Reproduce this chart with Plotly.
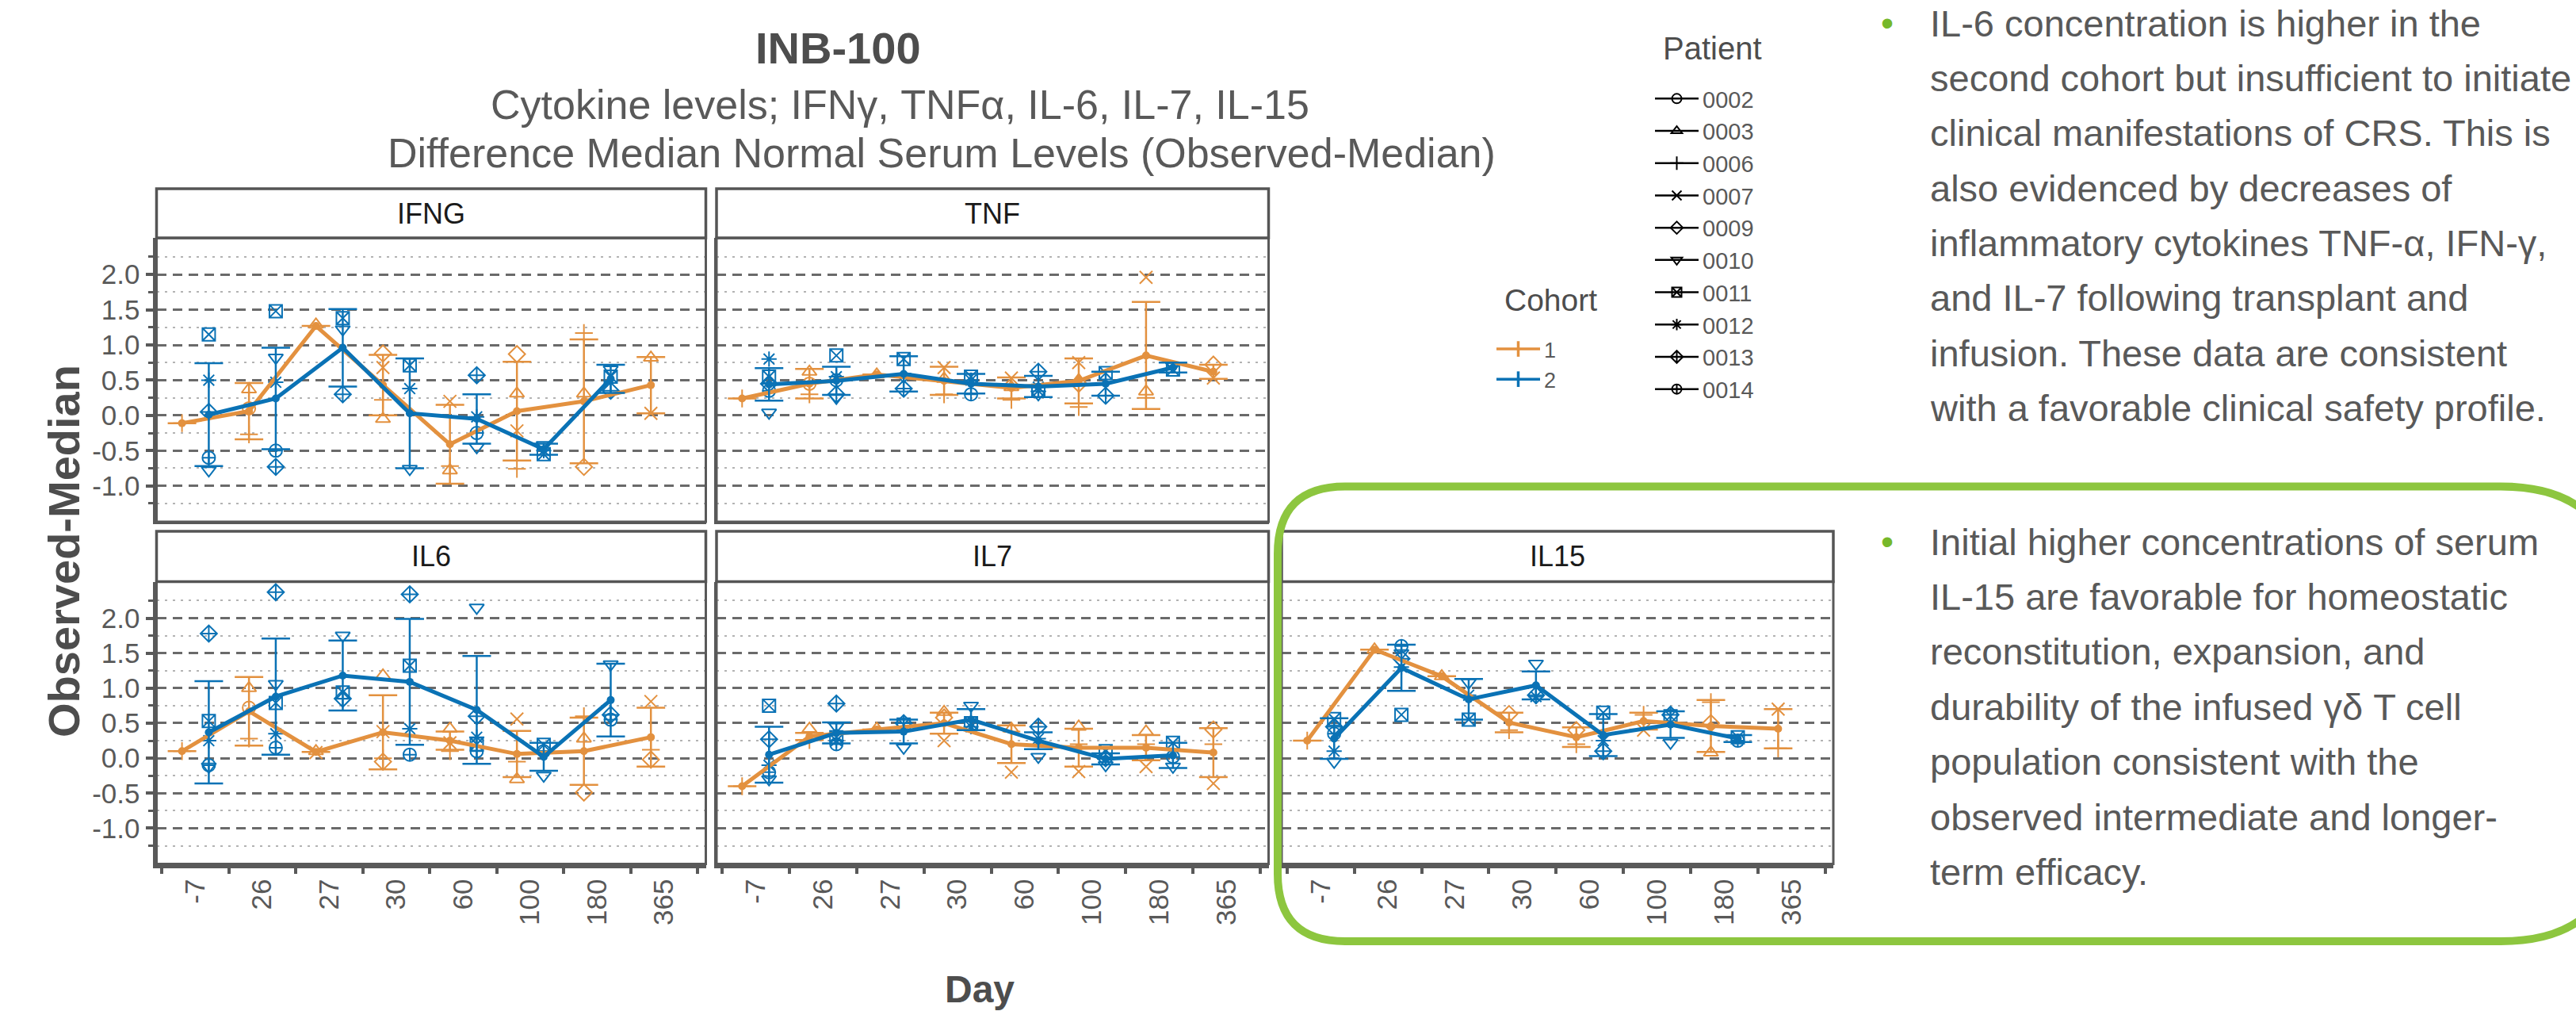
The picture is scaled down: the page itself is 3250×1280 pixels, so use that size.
import plotly.graph_objects as go

# ---------------- data ----------------
DAYS = ["-7", "26", "27", "30", "60", "100", "180", "365"]
CYTOKINES = ["IFNG", "TNF", "IL6", "IL7", "IL15"]
COHORT_1_PATIENTS = ["0002", "0003", "0006", "0007", "0009"]
COHORT_2_PATIENTS = ["0010", "0011", "0012", "0013", "0014"]
PATIENTS = COHORT_1_PATIENTS + COHORT_2_PATIENTS
COHORTS = ["1", "2"]
N = None

# cohort means (Observed - Median) and error half-widths
IFNG_C1_MEAN = [-0.11, 0.06, 1.27, 0.43, -0.41, 0.06, 0.20, 0.43]
IFNG_C1_ERR = [0, 0.40, 0, 0.43, 0.56, 0.70, 0.88, 0.40]
IFNG_C2_MEAN = [0.01, 0.24, 0.96, 0.03, -0.05, -0.48, 0.52, N]
IFNG_C2_ERR = [0.73, 0.72, 0.55, 0.78, 0.35, 0.08, 0.20, N]

TNF_C1_MEAN = [0.24, 0.45, 0.58, 0.49, 0.39, 0.49, 0.85, 0.62]
TNF_C1_ERR = [0, 0.21, 0, 0.20, 0.15, 0.32, 0.76, 0.10]
TNF_C2_MEAN = [0.44, 0.49, 0.59, 0.45, 0.41, 0.45, 0.68, N]
TNF_C2_ERR = [0.23, 0.20, 0.25, 0.14, 0.15, 0.17, 0.07, N]

IL6_C1_MEAN = [0.10, 0.67, 0.09, 0.37, 0.25, 0.06, 0.10, 0.30]
IL6_C1_ERR = [0, 0.49, 0, 0.53, 0.13, 0.33, 0.48, 0.42]
IL6_C2_MEAN = [0.37, 0.88, 1.18, 1.09, 0.69, 0.02, 0.83, N]
IL6_C2_ERR = [0.73, 0.83, 0.50, 0.90, 0.77, 0.20, 0.52, N]

IL7_C1_MEAN = [-0.40, 0.31, 0.41, 0.50, 0.20, 0.15, 0.15, 0.08]
IL7_C1_ERR = [0, 0.05, 0, 0.15, 0.27, 0.27, 0.18, 0.35]
IL7_C2_MEAN = [0.05, 0.36, 0.38, 0.55, 0.25, -0.01, 0.04, N]
IL7_C2_ERR = [0.40, 0.15, 0.17, 0.15, 0.12, 0.08, 0.18, N]

IL15_C1_MEAN = [0.25, 1.55, 1.17, 0.51, 0.30, 0.53, 0.46, 0.42]
IL15_C1_ERR = [0, 0, 0, 0.14, 0.14, 0.12, 0.37, 0.28]
IL15_C2_MEAN = [0.28, 1.29, 0.84, 1.04, 0.33, 0.48, 0.28, N]
IL15_C2_ERR = [0.29, 0.33, 0.29, 0.20, 0.30, 0.19, 0.05, N]

# individual patient values per cytokine
IFNG_PTS = {
    "0002": [N, 0.10, N, N, N, N, N, N],
    "0003": [N, 0.37, 1.29, -0.05, -0.78, 0.31, 0.31, 0.82],
    "0006": [-0.11, -0.27, N, 0.22, -0.72, -0.76, 1.17, N],
    "0007": [N, N, N, 0.68, 0.20, -0.22, N, 0.03],
    "0009": [N, N, N, 0.88, N, 0.87, -0.73, N],
    "0010": [-0.78, 0.82, 1.22, -0.76, -0.45, -0.42, 0.65, N],
    "0011": [1.15, 1.48, 1.38, 0.71, N, -0.55, 0.55, N],
    "0012": [0.50, 0.47, N, 0.38, -0.02, -0.50, N, N],
    "0013": [0.05, -0.73, 0.30, N, 0.57, N, 0.35, N],
    "0014": [-0.60, -0.50, N, N, -0.25, N, N, N],
}
TNF_PTS = {
    "0002": [N, 0.45, N, N, N, N, N, N],
    "0003": [N, 0.62, 0.58, 0.52, 0.40, 0.50, 0.34, N],
    "0006": [0.24, 0.30, N, 0.30, 0.22, 0.12, 0.25, N],
    "0007": [N, N, N, 0.68, 0.53, 0.75, 1.96, 0.53],
    "0009": [N, N, N, N, N, 0.45, N, 0.72],
    "0010": [0.04, 0.25, 0.55, N, 0.30, N, 0.70, N],
    "0011": [0.55, 0.85, 0.80, 0.55, 0.35, 0.60, 0.65, N],
    "0012": [0.80, 0.55, N, 0.50, 0.40, N, N, N],
    "0013": [0.45, 0.30, 0.38, N, 0.62, 0.28, N, N],
    "0014": [0.35, 0.50, N, 0.30, N, N, N, N],
}
IL6_PTS = {
    "0002": [N, 0.72, N, N, N, N, N, N],
    "0003": [N, 1.00, 0.10, 1.18, 0.42, -0.30, 0.28, N],
    "0006": [0.10, 0.28, N, 0.00, 0.10, -0.05, 0.60, 0.12],
    "0007": [N, N, 0.08, 0.38, 0.22, 0.56, N, 0.81],
    "0009": [N, N, N, -0.05, N, N, -0.49, -0.02],
    "0010": [-0.12, 1.06, 1.75, N, 2.15, -0.25, 1.34, N],
    "0011": [0.53, 0.79, 0.94, 1.32, 0.20, 0.19, N, N],
    "0012": [0.25, 0.35, N, 0.42, 0.30, N, N, N],
    "0013": [1.78, 2.37, 0.85, 2.34, 0.60, N, 0.62, N],
    "0014": [-0.10, 0.15, N, 0.05, 0.10, 0.10, 0.55, N],
}
IL7_PTS = {
    "0002": [N, N, N, N, N, N, N, N],
    "0003": [N, 0.42, 0.42, 0.66, 0.42, 0.45, 0.38, N],
    "0006": [-0.40, 0.26, N, N, 0.38, 0.20, 0.20, 0.20],
    "0007": [N, N, N, 0.25, -0.20, -0.19, -0.12, -0.36],
    "0009": [N, N, N, 0.58, N, N, N, 0.41],
    "0010": [-0.30, 0.45, 0.15, 0.75, 0.02, -0.10, -0.12, N],
    "0011": [0.75, 0.30, 0.48, 0.50, N, 0.10, 0.22, N],
    "0012": [-0.10, 0.25, N, 0.45, 0.28, N, N, N],
    "0013": [0.27, 0.78, 0.50, N, 0.45, 0.00, N, N],
    "0014": [-0.20, 0.20, N, N, N, N, 0.02, N],
}
IL15_PTS = {
    "0002": [N, N, N, N, N, N, N, N],
    "0003": [N, 1.55, 1.17, N, N, N, 0.08, N],
    "0006": [0.25, N, N, 0.40, 0.20, 0.62, 0.80, 0.14],
    "0007": [N, N, N, N, N, 0.40, N, 0.70],
    "0009": [N, N, N, 0.63, 0.40, N, 0.50, N],
    "0010": [-0.05, 1.50, 1.08, 1.35, N, 0.22, N, N],
    "0011": [0.56, 0.62, 0.55, N, 0.65, 0.60, 0.30, N],
    "0012": [0.10, 1.30, 0.90, 0.88, 0.25, N, N, N],
    "0013": [0.45, 1.42, N, 0.90, 0.10, 0.62, N, N],
    "0014": [0.35, 1.60, N, N, N, N, 0.25, N],
}

Y_TICKS = [-1.0, -0.5, 0.0, 0.5, 1.0, 1.5, 2.0]
Y_TICKTEXT = ["-1.0", "-0.5", "0.0", "0.5", "1.0", "1.5", "2.0"]

TITLE = "INB-100"
SUBTITLE_1 = "Cytokine levels; IFN\u03b3, TNF\u03b1, IL-6, IL-7, IL-15"
SUBTITLE_2 = "Difference Median Normal Serum Levels (Observed-Median)"
X_TITLE = "Day"
Y_TITLE = "Observed-Median"
BULLET_1 = [
    "IL-6 concentration is higher in the",
    "second cohort but insufficient to initiate",
    "clinical manifestations of CRS. This is",
    "also evidenced by decreases of",
    "inflammatory cytokines TNF-\u03b1, IFN-\u03b3,",
    "and IL-7 following transplant and",
    "infusion. These data are consistent",
    "with a favorable clinical safety profile.",
]
BULLET_2 = [
    "Initial higher concentrations of serum",
    "IL-15 are favorable for homeostatic",
    "reconstitution, expansion, and",
    "durability of the infused \u03b3\u03b4 T cell",
    "population consistent with the",
    "observed intermediate and longer-",
    "term efficacy.",
]

MEANS = {
    "IFNG": (IFNG_C1_MEAN, IFNG_C1_ERR, IFNG_C2_MEAN, IFNG_C2_ERR, IFNG_PTS),
    "TNF": (TNF_C1_MEAN, TNF_C1_ERR, TNF_C2_MEAN, TNF_C2_ERR, TNF_PTS),
    "IL6": (IL6_C1_MEAN, IL6_C1_ERR, IL6_C2_MEAN, IL6_C2_ERR, IL6_PTS),
    "IL7": (IL7_C1_MEAN, IL7_C1_ERR, IL7_C2_MEAN, IL7_C2_ERR, IL7_PTS),
    "IL15": (IL15_C1_MEAN, IL15_C1_ERR, IL15_C2_MEAN, IL15_C2_ERR, IL15_PTS),
}

# ---------------- style ----------------
W, H = 3250, 1280
FONT = "Liberation Sans, Arial, sans-serif"
ORANGE = "#E3913F"
BLUE = "#0A72B5"
AXIS_GREY = "#595959"
TEXT_GREY = "#595959"
DARK_GREY = "#4d4d4d"
GREEN = "#8DC63F"
SYMBOL = {
    "0002": "circle-open", "0003": "triangle-up-open", "0006": "cross-thin-open",
    "0007": "x-thin-open", "0009": "diamond-open", "0010": "triangle-down-open",
    "0011": "square-x-open", "0012": "asterisk-open", "0013": "diamond-cross-open",
    "0014": "circle-cross-open",
}
DODGE = 0.2


def px(x):
    return x / W


def py(y):
    return 1 - y / H


COLS = [(197.5, 890.5), (904, 1600.5), (1617, 2313)]
ROWS = [(300, 658), (733.6, 1089.5)]
STRIPS = [(238, 300), (670, 733.6)]
PANEL_POS = {"IFNG": (0, 0), "TNF": (1, 0), "IL6": (0, 1), "IL7": (1, 1), "IL15": (2, 1)}

fig = go.Figure()
shapes = []
annotations = []
layout_axes = {}

for i, cyt in enumerate(CYTOKINES, start=1):
    col, row = PANEL_POS[cyt]
    xr = "x" if i == 1 else f"x{i}"
    yr = "y" if i == 1 else f"y{i}"
    c1m, c1e, c2m, c2e, pts = MEANS[cyt]

    # individual patients
    for cohort, off, color in ((COHORT_1_PATIENTS, -DODGE, ORANGE), (COHORT_2_PATIENTS, DODGE, BLUE)):
        for pid in cohort:
            vals = pts[pid]
            xs = [k + off for k, v in enumerate(vals) if v is not None]
            ys = [v for v in vals if v is not None]
            if not xs:
                continue
            fig.add_trace(go.Scatter(
                x=xs, y=ys, mode="markers", xaxis=xr, yaxis=yr, showlegend=False,
                marker=dict(symbol=SYMBOL[pid], size=16, color=color,
                            line=dict(width=2, color=color)),
                hoverinfo="skip"))

    # cohort means with error bars
    for mean, err, off, color in ((c1m, c1e, -DODGE, ORANGE), (c2m, c2e, DODGE, BLUE)):
        xs = [k + off for k, v in enumerate(mean) if v is not None]
        ys = [v for v in mean if v is not None]
        es = [e for v, e in zip(mean, err) if v is not None]
        fig.add_trace(go.Scatter(
            x=xs, y=ys, mode="lines+markers", xaxis=xr, yaxis=yr, showlegend=False,
            line=dict(color=color, width=5),
            marker=dict(symbol="circle", size=10, color=color),
            error_y=dict(type="data", array=es, visible=True, thickness=2.5,
                         width=18, color=color)))

    c0, c1 = COLS[col]
    r0, r1 = ROWS[row]
    xname = "xaxis" if i == 1 else f"xaxis{i}"
    yname = "yaxis" if i == 1 else f"yaxis{i}"
    bottom = row == 1
    left = col == 0
    layout_axes[xname] = dict(
        domain=[px(c0), px(c1)], anchor=yr, range=[-0.58, 7.62],
        tickmode="array", tickvals=list(range(len(DAYS))), ticktext=DAYS,
        showticklabels=bottom, tickangle=-90, ticks="",
        tickfont=dict(size=35, color=TEXT_GREY, family=FONT),
        showgrid=False, zeroline=False, showline=True,
        linecolor=AXIS_GREY, linewidth=5 if bottom else 3,
        minor=dict(tickmode="linear", tick0=0.5, dtick=1,
                   ticks="outside" if bottom else "", ticklen=7, tickwidth=4,
                   tickcolor=AXIS_GREY, showgrid=False),
    )
    layout_axes[yname] = dict(
        domain=[py(r1), py(r0)], anchor=xr, range=[-1.51, 2.52],
        tickmode="array", tickvals=Y_TICKS, ticktext=Y_TICKTEXT,
        showticklabels=left, ticks="outside" if left else "", ticklen=9,
        tickwidth=4, tickcolor=AXIS_GREY,
        tickfont=dict(size=35, color=TEXT_GREY, family=FONT),
        showgrid=True, gridcolor="#6a6a6a", gridwidth=2.5, griddash="12px,8px",
        zeroline=False, showline=True, linecolor=AXIS_GREY,
        linewidth=5 if left else 3,
        minor=dict(tickmode="linear", tick0=0.25, dtick=0.5,
                   ticks="outside" if left else "", ticklen=6, tickwidth=3,
                   tickcolor=AXIS_GREY, showgrid=True, gridcolor="#b3b3b3",
                   gridwidth=2, griddash="3px,7px"),
    )
    # panel border
    shapes.append(dict(type="rect", xref=f"{xr} domain", yref=f"{yr} domain",
                       x0=0, x1=1, y0=0, y1=1, line=dict(color=AXIS_GREY, width=3)))
    # strip
    s0, s1 = STRIPS[row]
    shapes.append(dict(type="rect", xref="paper", yref="paper",
                       x0=px(c0), x1=px(c1), y0=py(s1), y1=py(s0),
                       fillcolor="white", line=dict(color="#555555", width=3.5)))
    annotations.append(dict(text=cyt, x=px((c0 + c1) / 2), y=py((s0 + s1) / 2),
                            xanchor="center",
                            font=dict(size=36, color="#1a1a1a", family=FONT)))

# legend-only traces: Patient
for pid in PATIENTS:
    fig.add_trace(go.Scatter(
        x=[None], y=[None], mode="lines+markers", name=pid, legend="legend",
        line=dict(color="black", width=2.5),
        marker=dict(symbol=SYMBOL[pid], size=12, color="black",
                    line=dict(width=2, color="black"))))
# legend-only traces: Cohort
for name, color in zip(COHORTS, (ORANGE, BLUE)):
    fig.add_trace(go.Scatter(
        x=[None], y=[None], mode="lines+markers", name=name, legend="legend2",
        line=dict(color=color, width=3.5),
        marker=dict(symbol="line-ns-open", size=14, color=color,
                    line=dict(width=3.5, color=color))))

# titles and texts
annotations += [
    dict(text=f"<b>{TITLE}</b>", x=px(1057), y=py(61), xanchor="center",
         font=dict(size=56, color=DARK_GREY, family=FONT)),
    dict(text=SUBTITLE_1, x=px(617), y=py(132), xanchor="left",
         font=dict(size=52, color=TEXT_GREY, family=FONT)),
    dict(text=SUBTITLE_2, x=px(487), y=py(193), xanchor="left",
         font=dict(size=52, color=TEXT_GREY, family=FONT)),
    dict(text=f"<b>{Y_TITLE}</b>", x=px(80), y=py(695), xanchor="center",
         textangle=-90, font=dict(size=56, color=DARK_GREY, family=FONT)),
    dict(text=f"<b>{X_TITLE}</b>", x=px(1236), y=py(1247), xanchor="center",
         font=dict(size=48, color=DARK_GREY, family=FONT)),
    dict(text="Patient", x=px(2096), y=py(61), xanchor="left",
         font=dict(size=40, color=DARK_GREY, family=FONT)),
    dict(text="Cohort", x=px(1896), y=py(378), xanchor="left",
         font=dict(size=39, color=DARK_GREY, family=FONT)),
]
for base_y, lines in ((29, BULLET_1), (683, BULLET_2)):
    annotations.append(dict(text="\u2022", x=px(2381), y=py(base_y), xanchor="center",
                            font=dict(size=46, color="#76B82A", family=FONT)))
    for j, line in enumerate(lines):
        annotations.append(dict(text=line, x=px(2433), y=py(base_y + 69.4 * j),
                                xanchor="left",
                                font=dict(size=47, color=TEXT_GREY, family=FONT)))
for a in annotations:
    a.setdefault("xref", "paper")
    a.setdefault("yref", "paper")
    a.setdefault("yanchor", "middle")
    a.setdefault("showarrow", False)

# green rounded frame
x0, x1, y0, y1 = 1612, 3305, 613.5, 1187
RL, RR = 85, 150
path = (f"M{px(x0 + RL)},{py(y0)} L{px(x1 - RR)},{py(y0)} "
        f"Q{px(x1)},{py(y0)} {px(x1)},{py(y0 + RR)} L{px(x1)},{py(y1 - RR)} "
        f"Q{px(x1)},{py(y1)} {px(x1 - RR)},{py(y1)} L{px(x0 + RL)},{py(y1)} "
        f"Q{px(x0)},{py(y1)} {px(x0)},{py(y1 - RL)} L{px(x0)},{py(y0 + RL)} "
        f"Q{px(x0)},{py(y0)} {px(x0 + RL)},{py(y0)} Z")
shapes.append(dict(type="path", xref="paper", yref="paper", path=path,
                   line=dict(color=GREEN, width=10), layer="above"))

fig.update_layout(
    width=W, height=H, margin=dict(l=0, r=0, t=0, b=0),
    paper_bgcolor="white", plot_bgcolor="white",
    font=dict(family=FONT, color=TEXT_GREY),
    shapes=shapes, annotations=annotations,
    legend=dict(font=dict(size=29, color=TEXT_GREY), x=px(2083), y=py(99),
                xanchor="left", yanchor="top", bgcolor="rgba(0,0,0,0)",
                itemwidth=55, tracegroupgap=0),
    legend2=dict(font=dict(size=27, color=TEXT_GREY), x=px(1883), y=py(416),
                 xanchor="left", yanchor="top", bgcolor="rgba(0,0,0,0)",
                 itemwidth=55, tracegroupgap=0),
    **layout_axes,
)

fig.write_html("out.html")
